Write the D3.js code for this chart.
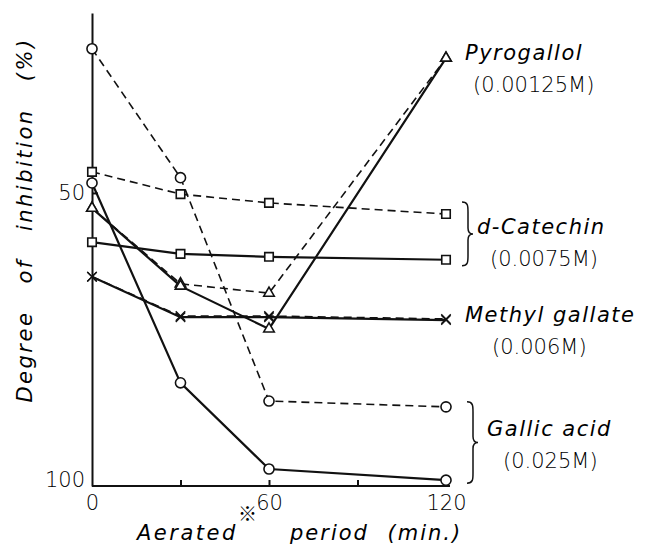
<!DOCTYPE html>
<html>
<head>
<meta charset="utf-8">
<script src="https://cdn.jsdelivr.net/npm/d3@7"></script>
<style>
  body { margin: 0; background: #fff; }
  svg text { fill: #000; }
  .lbl { font-family: "DejaVu Sans", sans-serif; font-style: italic; font-size: 21px; letter-spacing: 1.5px; }
  .num { font-family: "DejaVu Sans", sans-serif; font-weight: 200; font-size: 21px; }
  .axis path, .axis line { stroke: #111; stroke-width: 2; }
  .axis text { font-family: "DejaVu Sans", sans-serif; font-weight: 200; font-size: 21px; fill: #000; }
</style>
</head>
<body>
<div id="chart"></div>
<script>
// aeration time (min.)
var times = [0, 30, 60, 120];
var xTicks = [0, 30, 60, 90, 120];
var xTickLabels = {0: "0", 60: "60", 120: "120"};
var yTicks = [50, 100];

// degree of inhibition (%)
var pyroSolid    = [52.6, 65.9, 73.2, 27.0];
var pyroDashed   = [52.6, 65.5, 67.1, 27.0];
var catSolid     = [58.4, 60.4, 60.9, 61.4];
var catDashed    = [46.4, 50.2, 51.7, 53.6];
var methylSolid  = [64.3, 71.2, 71.2, 71.7];
var methylDashed = [64.3, 71.0, 71.0, 71.5];
var gallicSolid  = [48.3, 82.4, 97.1, 99.0];
var gallicDashed = [25.4, 47.4, 85.5, 86.5];

var series = [
  {values: gallicDashed, dashed: true,  marker: "circle"},
  {values: catDashed,    dashed: true,  marker: "square"},
  {values: pyroDashed,   dashed: true,  marker: "triangle"},
  {values: methylDashed, dashed: true,  marker: "x"},
  {values: catSolid,     dashed: false, marker: "square"},
  {values: methylSolid,  dashed: false, marker: "x"},
  {values: pyroSolid,    dashed: false, marker: "triangle"},
  {values: gallicSolid,  dashed: false, marker: "circle"}
];

var width = 654, height = 547;

var svg = d3.select("#chart")
  .append("svg")
    .attr("width", width)
    .attr("height", height);

var x = d3.scaleLinear().domain([0, 120]).range([92, 446]);
var y = d3.scaleLinear().domain([19.3, 100]).range([13, 486]);

// x axis, ticks point up into the plot
svg.append("g")
    .attr("class", "axis axis--x")
    .attr("transform", "translate(0," + y(100) + ")")
    .call(d3.axisBottom(x)
      .tickValues(xTicks)
      .tickSizeInner(-6)
      .tickSizeOuter(0)
      .tickPadding(9)
      .tickFormat(function(d) { return xTickLabels[d] || ""; }));
svg.select(".axis--x path").attr("d", "M" + x(0) + ",0H" + (x(120) + 4));

// y axis
svg.append("g")
    .attr("class", "axis axis--y")
    .attr("transform", "translate(" + x(0) + ",0)")
    .call(d3.axisLeft(y)
      .tickValues(yTicks)
      .tickSizeInner(-6)
      .tickSizeOuter(0)
      .tickPadding(7)
      .tickFormat(d3.format("d")));
svg.selectAll(".axis--y .tick text")
    .filter(function(d) { return d === 100; })
    .attr("dy", "0");
svg.selectAll(".axis--y .tick line")
    .filter(function(d) { return d === 100; })
    .remove();
svg.selectAll(".axis--x .tick line")
    .filter(function(d) { return d === 0; })
    .remove();

var line = d3.line()
    .x(function(d, i) { return x(times[i]); })
    .y(function(d) { return y(d); });

svg.selectAll(".series")
    .data(series)
    .enter()
    .append("path")
      .attr("class", "series")
      .attr("d", function(d) { return line(d.values); })
      .style("fill", "none")
      .style("stroke", "#111")
      .style("stroke-width", function(d) { return d.dashed ? 1.6 : 2.2; })
      .style("stroke-dasharray", function(d) { return d.dashed ? "8,5" : null; });

var symbols = {
  circle:   d3.symbol().type(d3.symbolCircle).size(80),
  square:   d3.symbol().type(d3.symbolSquare).size(72),
  triangle: d3.symbol().type(d3.symbolTriangle).size(48),
  x:        d3.symbol().type(d3.symbolX).size(60)
};

series.forEach(function(s) {
  svg.selectAll(null)
      .data(s.values)
      .enter()
      .append("path")
        .attr("transform", function(d, i) { return "translate(" + x(times[i]) + "," + y(d) + ")"; })
        .attr("d", symbols[s.marker]())
        .style("fill", s.marker === "x" ? "none" : "#fff")
        .style("stroke", "#111")
        .style("stroke-width", s.marker === "x" ? 1.3 : 1.6);
});

// series labels
function label(lines, left, top) {
  lines.forEach(function(l, i) {
    svg.append("text")
        .attr("class", l.num ? "num" : "lbl")
        .attr("x", left + l.dx)
        .attr("y", top + i * 32)
        .text(l.text);
  });
}
label([{text: "Pyrogallol", dx: 0}, {text: "(0.00125M)", dx: 8, num: true}], x(120) + 19, 60);
label([{text: "d-Catechin", dx: 0}, {text: "(0.0075M)", dx: 13, num: true}], x(120) + 31, 234);
label([{text: "Methyl gallate", dx: 0}, {text: "(0.006M)", dx: 27, num: true}], x(120) + 19, 322);
label([{text: "Gallic acid", dx: 0}, {text: "(0.025M)", dx: 16, num: true}], x(120) + 41, 436);

// braces grouping solid and dashed curves
function brace(x0, y0, y1) {
  var m = (y0 + y1) / 2;
  return "M" + x0 + "," + y0 +
    "C" + (x0 + 6) + "," + y0 + " " + (x0 + 6) + "," + (y0 + 4) + " " + (x0 + 6) + "," + (y0 + 10) +
    "L" + (x0 + 6) + "," + (m - 6) +
    "C" + (x0 + 6) + "," + (m - 1) + " " + (x0 + 9) + "," + m + " " + (x0 + 11) + "," + m +
    "C" + (x0 + 9) + "," + m + " " + (x0 + 6) + "," + (m + 1) + " " + (x0 + 6) + "," + (m + 6) +
    "L" + (x0 + 6) + "," + (y1 - 10) +
    "C" + (x0 + 6) + "," + (y1 - 4) + " " + (x0 + 6) + "," + y1 + " " + x0 + "," + y1;
}
svg.append("path")
    .attr("d", brace(x(120) + 16, y(catDashed[3]) - 12, y(catSolid[3]) + 6))
    .style("fill", "none").style("stroke", "#111").style("stroke-width", 1.5);
svg.append("path")
    .attr("d", brace(x(120) + 21, y(gallicDashed[3]) - 5, y(gallicSolid[3]) + 3))
    .style("fill", "none").style("stroke", "#111").style("stroke-width", 1.5);

// axis titles
svg.append("text")
    .attr("class", "lbl")
    .attr("transform", "translate(32,220) rotate(-90)")
    .attr("text-anchor", "middle")
    .style("letter-spacing", "2.5px")
    .style("word-spacing", "18px")
    .text("Degree of inhibition (%)");

svg.append("text")
    .attr("class", "lbl")
    .attr("x", 137)
    .attr("y", 540)
    .style("letter-spacing", "2.5px")
    .text("Aerated");
svg.append("text")
    .attr("x", 238)
    .attr("y", 521)
    .style("font-family", "Noto Sans CJK JP, sans-serif")
    .style("font-weight", 300)
    .style("font-size", "19px")
    .text("※");
svg.append("text")
    .attr("class", "lbl")
    .attr("x", 290)
    .attr("y", 540)
    .style("letter-spacing", "2px")
    .style("word-spacing", "10px")
    .text("period (min.)");
</script>
</body>
</html>
